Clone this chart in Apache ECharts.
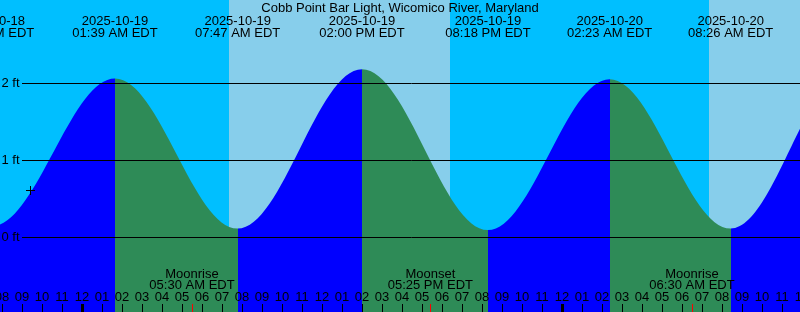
<!DOCTYPE html>
<html><head><meta charset="utf-8">
<script src="https://cdn.jsdelivr.net/npm/echarts@6/dist/echarts.min.js"></script>
<style>html,body{margin:0;padding:0;background:#00BFFF;overflow:hidden}#c{width:800px;height:312px}</style>
</head><body><div id="c"></div>
<script>
const chartTitle = 'Cobb Point Bar Light, Wicomico River, Maryland';
// tide extremes (local time, EDT) and heights in feet
const tideTimes = ['2025-10-18 13:20','2025-10-18 19:29','2025-10-19 01:39','2025-10-19 07:47','2025-10-19 14:00','2025-10-19 20:18','2025-10-20 02:23','2025-10-20 08:26','2025-10-20 14:20','2025-10-20 20:45'];
const tideHeights = [2.10, 0.14, 2.06, 0.11, 2.18, 0.09, 2.05, 0.11, 2.15, 0.10];
// moon events
const moonEvents = ['Moonrise', 'Moonset', 'Moonrise'];
const moonTimes = ['2025-10-19 05:30', '2025-10-19 17:25', '2025-10-20 06:30'];
// daylight
const sunriseTimes = ['2025-10-19 07:21', '2025-10-20 07:21'];
const sunsetTimes = ['2025-10-19 18:24', '2025-10-20 18:23'];
const midnightTimes = ['2025-10-19 00:00', '2025-10-20 00:00'];
// current time marker
const nowTime = '2025-10-18 21:24';
const nowHeight = 0.61;
// y tick values (ft)
const yTicks = [0, 1, 2];

const FONT = 'Liberation Sans, Arial, sans-serif';
function toHours(s) {
  const [d, t] = s.split(' ');
  const [Y, M, D] = d.split('-').map(Number);
  const [h, m] = t.split(':').map(Number);
  return (Date.UTC(Y, M - 1, D, h, m) - Date.UTC(2025, 9, 19, 0, 0)) / 3600000;
}
function pad(n) { return (n < 10 ? '0' : '') + n; }
function fmt12(s) {
  const t = s.split(' ')[1];
  const [h, m] = t.split(':').map(Number);
  const h12 = (h % 12) || 12;
  return pad(h12) + ':' + pad(m) + ' ' + (h < 12 ? 'AM' : 'PM') + ' EDT';
}
function nearest(arr, v) {
  let bi = 0, bd = Infinity;
  arr.forEach((a, i) => { const d = Math.abs(a - v); if (d < bd) { bd = d; bi = i; } });
  return bi;
}
const tideHours = tideTimes.map(toHours);
const moonHours = moonTimes.map(toHours);
const midHours = midnightTimes.map(toHours);

const BLUE = '#0000FF', GREEN = '#2E8B57';
const pieces = [];
for (let i = 0; i < tideHours.length - 1; i++) {
  pieces.push({
    min: i === 0 ? -50 : tideHours[i],
    max: i === tideHours.length - 2 ? 80 : tideHours[i + 1],
    color: tideHeights[i + 1] > tideHeights[i] ? BLUE : GREEN
  });
}

const XMIN = -5, XMAX = 36;
const baseX = {
  type: 'value', min: XMIN, max: XMAX, z: 10,
  axisLine: { show: false, onZero: false }, splitLine: { show: false }
};
const chart = echarts.init(document.getElementById('c'), null, { renderer: 'canvas', width: 800, height: 312 });
chart.setOption({
  backgroundColor: '#00BFFF',
  animation: false,
  title: {
    text: chartTitle, left: 'center', top: 1, padding: 0,
    textStyle: { fontFamily: FONT, fontSize: 13, fontWeight: 'normal', color: '#000', lineHeight: 14 }
  },
  grid: { left: -18, right: -2, top: -1.7, bottom: -2, containLabel: false, outerBoundsMode: 'none' },
  visualMap: { type: 'piecewise', show: false, dimension: 0, seriesIndex: 0, pieces: pieces },
  xAxis: [
    Object.assign({}, baseX, {
      position: 'bottom', interval: 1,
      axisTick: { show: true, inside: true, length: 10, lineStyle: { color: '#000', width: 1 } },
      axisLabel: {
        show: true, inside: true, margin: 10, fontFamily: FONT, fontSize: 13, color: '#000', lineHeight: 13,
        showMinLabel: true, showMaxLabel: true, hideOverlap: false,
        formatter: v => { const hod = ((Math.round(v) % 24) + 24) % 24; return pad((hod % 12) || 12); }
      }
    }),
    Object.assign({}, baseX, {
      position: 'bottom',
      axisTick: { show: true, inside: true, length: 10, customValues: midHours, lineStyle: { color: '#000', width: 3 } },
      axisLabel: { show: false }
    }),
    Object.assign({}, baseX, {
      position: 'bottom',
      axisTick: { show: true, inside: true, length: 10, customValues: moonHours, lineStyle: { color: '#FF0000', width: 1 } },
      axisLabel: {
        show: true, inside: true, margin: 23, customValues: moonHours, hideOverlap: false,
        fontFamily: FONT, fontSize: 13, color: '#000', lineHeight: 11, align: 'center',
        formatter: v => { const i = nearest(moonHours, v); return moonEvents[i] + '\n' + fmt12(moonTimes[i]); }
      }
    }),
    Object.assign({}, baseX, {
      position: 'top',
      axisTick: { show: false },
      axisLabel: {
        show: true, inside: true, margin: 16.7, customValues: tideHours, hideOverlap: false,
        fontFamily: FONT, fontSize: 13, color: '#000', lineHeight: 12, align: 'center',
        formatter: v => { const i = nearest(tideHours, v); return tideTimes[i].split(' ')[0] + '\n' + fmt12(tideTimes[i]); }
      }
    })
  ],
  yAxis: { type: 'value', min: -1, max: 3.1, show: false, splitLine: { show: false }, axisLine: { onZero: false } },
  series: [
    {
      type: 'line', xAxisIndex: 0, yAxisIndex: 0,
      data: tideHours.map((h, i) => [h, tideHeights[i]]),
      smooth: 0.36, smoothMonotone: 'x', showSymbol: false, silent: true,
      lineStyle: { width: 0, opacity: 0 },
      areaStyle: { opacity: 1, origin: 'start' },
      markArea: {
        silent: true,
        itemStyle: { color: '#87CEEB', opacity: 1, borderWidth: 0 },
        data: sunriseTimes.map((s, i) => [{ xAxis: toHours(s) }, { xAxis: toHours(sunsetTimes[i]) }])
      },
      markLine: {
        silent: true, symbol: ['none', 'none'], animation: false,
        lineStyle: { color: '#000', width: 1, type: 'solid' },
        label: { show: true, position: 'start', distance: 2.5, formatter: '{b}', fontFamily: FONT, fontSize: 13, color: '#000' },
        data: yTicks.map(v => [{ coord: [-3, v], name: v + ' ft' }, { coord: [XMAX, v] }])
      }
    },
    {
      type: 'scatter', xAxisIndex: 0, yAxisIndex: 0, z: 12, silent: true,
      data: [[toHours(nowTime), nowHeight]],
      symbol: 'path://M0,4h9v1h-9zM4,0h1v9h-1z', symbolSize: 9, symbolOffset: [0.5, 0.5],
      itemStyle: { color: '#000', opacity: 1 }
    }
  ]
});
</script>
</body></html>
